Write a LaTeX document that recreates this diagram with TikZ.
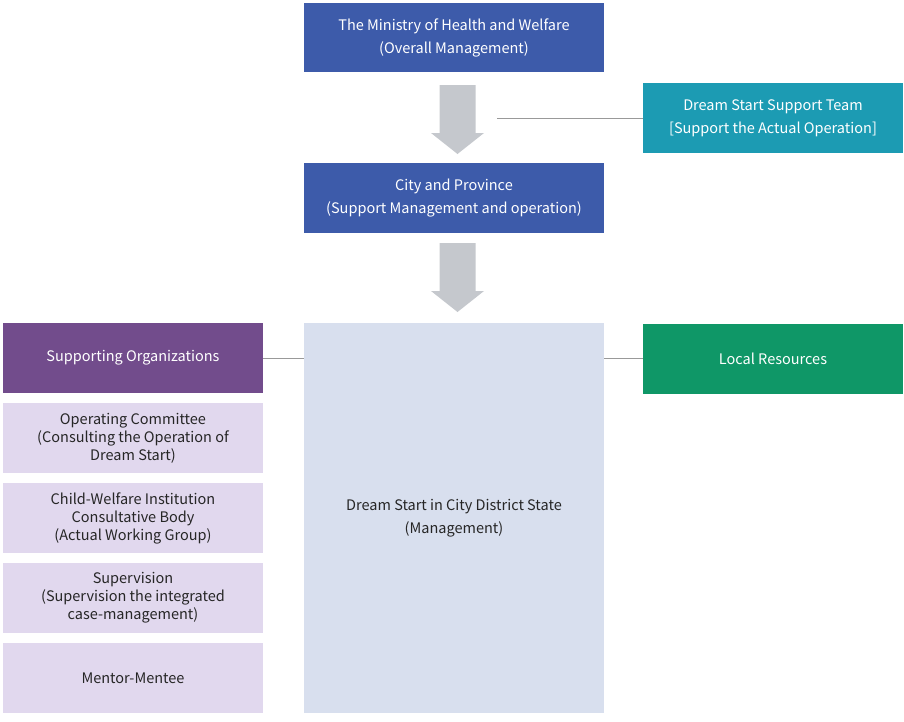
\documentclass[tikz,border=0pt]{standalone}
\usepackage{fontspec}
\setmainfont{Noto Sans CJK KR}
\usepackage{xcolor}
\definecolor{ministryblue}{HTML}{3D5BAA}
\definecolor{teamteal}{HTML}{1C9BB3}
\definecolor{orgpurple}{HTML}{724C8C}
\definecolor{sublilac}{HTML}{E1D8EE}
\definecolor{dreamgray}{HTML}{D8DFEE}
\definecolor{localgreen}{HTML}{0F9767}
\definecolor{arrowgray}{HTML}{C5C8CD}
\definecolor{linegray}{HTML}{999999}
\tikzset{box/.style={inner sep=0pt,align=center,minimum height=70pt},
 wide/.style={box,minimum width=300pt},
 narrow/.style={box,minimum width=260pt},
 head/.style={text=white,font=\fontsize{14.5}{23}\selectfont},
 sub/.style={narrow,fill=sublilac,text=black!85,font=\fontsize{14.5}{18}\selectfont},
 link/.style={draw=linegray,line width=0.8pt},
 }
\usetikzlibrary{positioning}

\begin{document}
\begin{tikzpicture}[x=1pt,y=-1pt]
        \useasboundingbox (0,0) rectangle (904,721);
        \node[wide,head,fill=ministryblue,minimum height=69pt] (ministry) at (454,37.5)
            {The Ministry of Health and Welfare\\(Overall Management)};
        \node[narrow,head,fill=teamteal] (team) at (773,118)
            {Dream Start Support Team\\{[}Support the Actual Operation{]}};
        \node[wide,head,fill=ministryblue] (city) at (454,198)
            {City and Province\\(Support Management and operation)};
        \node[wide,fill=dreamgray,minimum height=390pt,text=black!85,
            font=\fontsize{14.5}{23}\selectfont] (dream) at (454,518)
            {Dream Start in City District State\\(Management)};
        \node[narrow,head,fill=orgpurple] (orgs) at (133,358) {Supporting Organizations};
        \node[sub] (committee) at (133,438)
            {Operating Committee\\(Consulting the Operation of\\Dream Start)};
        \node[sub] (body) at (133,518)
            {Child-Welfare Institution\\Consultative Body\\(Actual Working Group)};
        \node[sub] (supervision) at (133,598)
            {Supervision\\(Supervision the integrated\\case-management)};
        \node[sub] (mentor) at (133,678) {Mentor-Mentee};
        \node[narrow,head,fill=localgreen] (local) at (773,358.5) {Local Resources};
        \foreach \y in {85,243}
            \fill[arrowgray] (439.5,\y) -- (475.5,\y) -- (475.5,{\y+48}) -- (484,{\y+48})
                -- (457.5,{\y+69}) -- (431,{\y+48}) -- (439.5,{\y+48}) -- cycle;
        \coordinate (teamend) at (497,118);
        \draw[link] (team.west) -- (teamend);
        \draw[link] (orgs.east) -- (orgs.east -| dream.west);
        \draw[link] (dream.east |- local.west) -- (local.west);
    \end{tikzpicture}
\end{document}
